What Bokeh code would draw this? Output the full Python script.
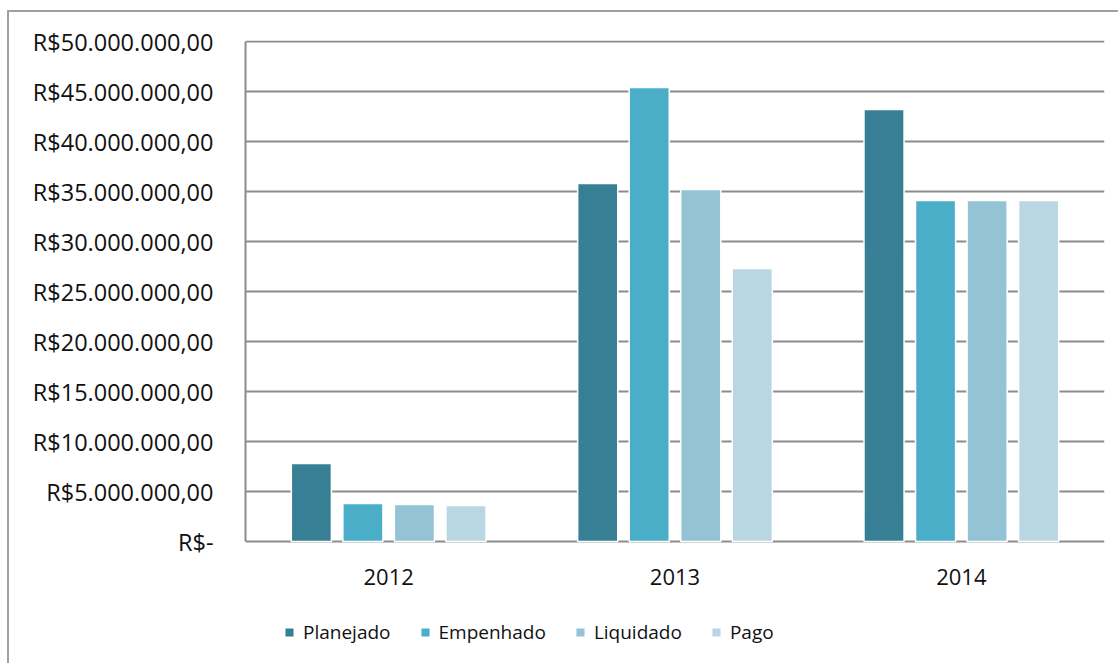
from bokeh.plotting import figure
from bokeh.models import FactorRange, ColumnDataSource, Legend, LegendItem, FixedTicker, Range1d
from bokeh.core.properties import value
from bokeh.transform import dodge
from bokeh.embed import file_html
from bokeh.resources import INLINE

years = ["2012", "2013", "2014"]
series = ["Planejado", "Empenhado", "Liquidado", "Pago"]
planejado = [7.8e6, 35.8e6, 43.2e6]
empenhado = [3.8e6, 45.4e6, 34.1e6]
liquidado = [3.7e6, 35.2e6, 34.1e6]
pago = [3.6e6, 27.3e6, 34.1e6]
colors = ["#367f94", "#4aaec8", "#93c3d5", "#b9d7e3"]
tick_values = [0, 5e6, 10e6, 15e6, 20e6, 25e6, 30e6, 35e6, 40e6, 45e6, 50e6]
tick_labels = ["R$-", "R$5.000.000,00", "R$10.000.000,00", "R$15.000.000,00",
               "R$20.000.000,00", "R$25.000.000,00", "R$30.000.000,00",
               "R$35.000.000,00", "R$40.000.000,00", "R$45.000.000,00",
               "R$50.000.000,00"]

src = ColumnDataSource(dict(years=years, base=[0] * len(years), Planejado=planejado,
                            Empenhado=empenhado, Liquidado=liquidado, Pago=pago))

FONT = "Open Sans"
ymax = tick_values[-1]
# frame: 620 px tall; 1 px = ymax/500 ; extends below zero to hold year labels & legend
px = ymax / 500
p = figure(x_range=FactorRange(*years, range_padding=0),
           y_range=Range1d(-119 * px, ymax + 1 * px),
           frame_width=859, frame_height=620, output_backend="svg", toolbar_location=None,
           min_border_left=236, min_border_right=14, min_border_top=28,
           min_border_bottom=3)
p.margin = (10, 0, 0, 7)
p.styles = {"border-left": "2px solid #a0a0a0", "border-top": "2px solid #a0a0a0"}
p.outline_line_color = None
p.background_fill_color = "white"

offsets = [-0.27, -0.09, 0.09, 0.27]
renderers = []
for s, off, c in zip(series, offsets, colors):
    r = p.vbar(x=dodge("years", off, range=p.x_range), top=s, bottom="base", width=0.14,
               source=src, fill_color=c, line_color="white", line_width=1.5)
    renderers.append(r)

# year labels under the zero line
p.text(x="years", y="base", text="years", source=src, text_align="center",
       text_baseline="middle", y_offset=35, text_font=value(FONT),
       text_font_size="22px", text_color="#111111")

p.xaxis.visible = False
p.xgrid.grid_line_color = None
p.ygrid.grid_line_color = "#8c8c8c"
p.ygrid.grid_line_width = 2
p.ygrid.level = "underlay"

p.yaxis.ticker = FixedTicker(ticks=tick_values)
p.yaxis.bounds = (tick_values[0], tick_values[-1])
p.yaxis.major_label_overrides = {v: l for v, l in zip(tick_values, tick_labels)}
p.yaxis.major_tick_line_color = None
p.yaxis.minor_tick_line_color = None
p.yaxis.axis_line_color = "#8c8c8c"
p.yaxis.axis_line_width = 2
p.yaxis.major_label_text_font = FONT
p.yaxis.major_label_text_font_size = "23.5px"
p.yaxis.major_label_text_color = "#111111"
p.yaxis.major_label_standoff = 26

legend = Legend(items=[LegendItem(label=s, renderers=[r]) for s, r in zip(series, renderers)],
                orientation="horizontal", location=(38, 15),
                label_text_font=FONT, label_text_font_size="19px",
                label_text_color="#111111", glyph_width=12, glyph_height=12,
                label_standoff=8, spacing=28, padding=0, margin=0,
                border_line_color=None, background_fill_alpha=0)
p.add_layout(legend, "center")

open("out.html", "w").write(file_html(p, INLINE))
